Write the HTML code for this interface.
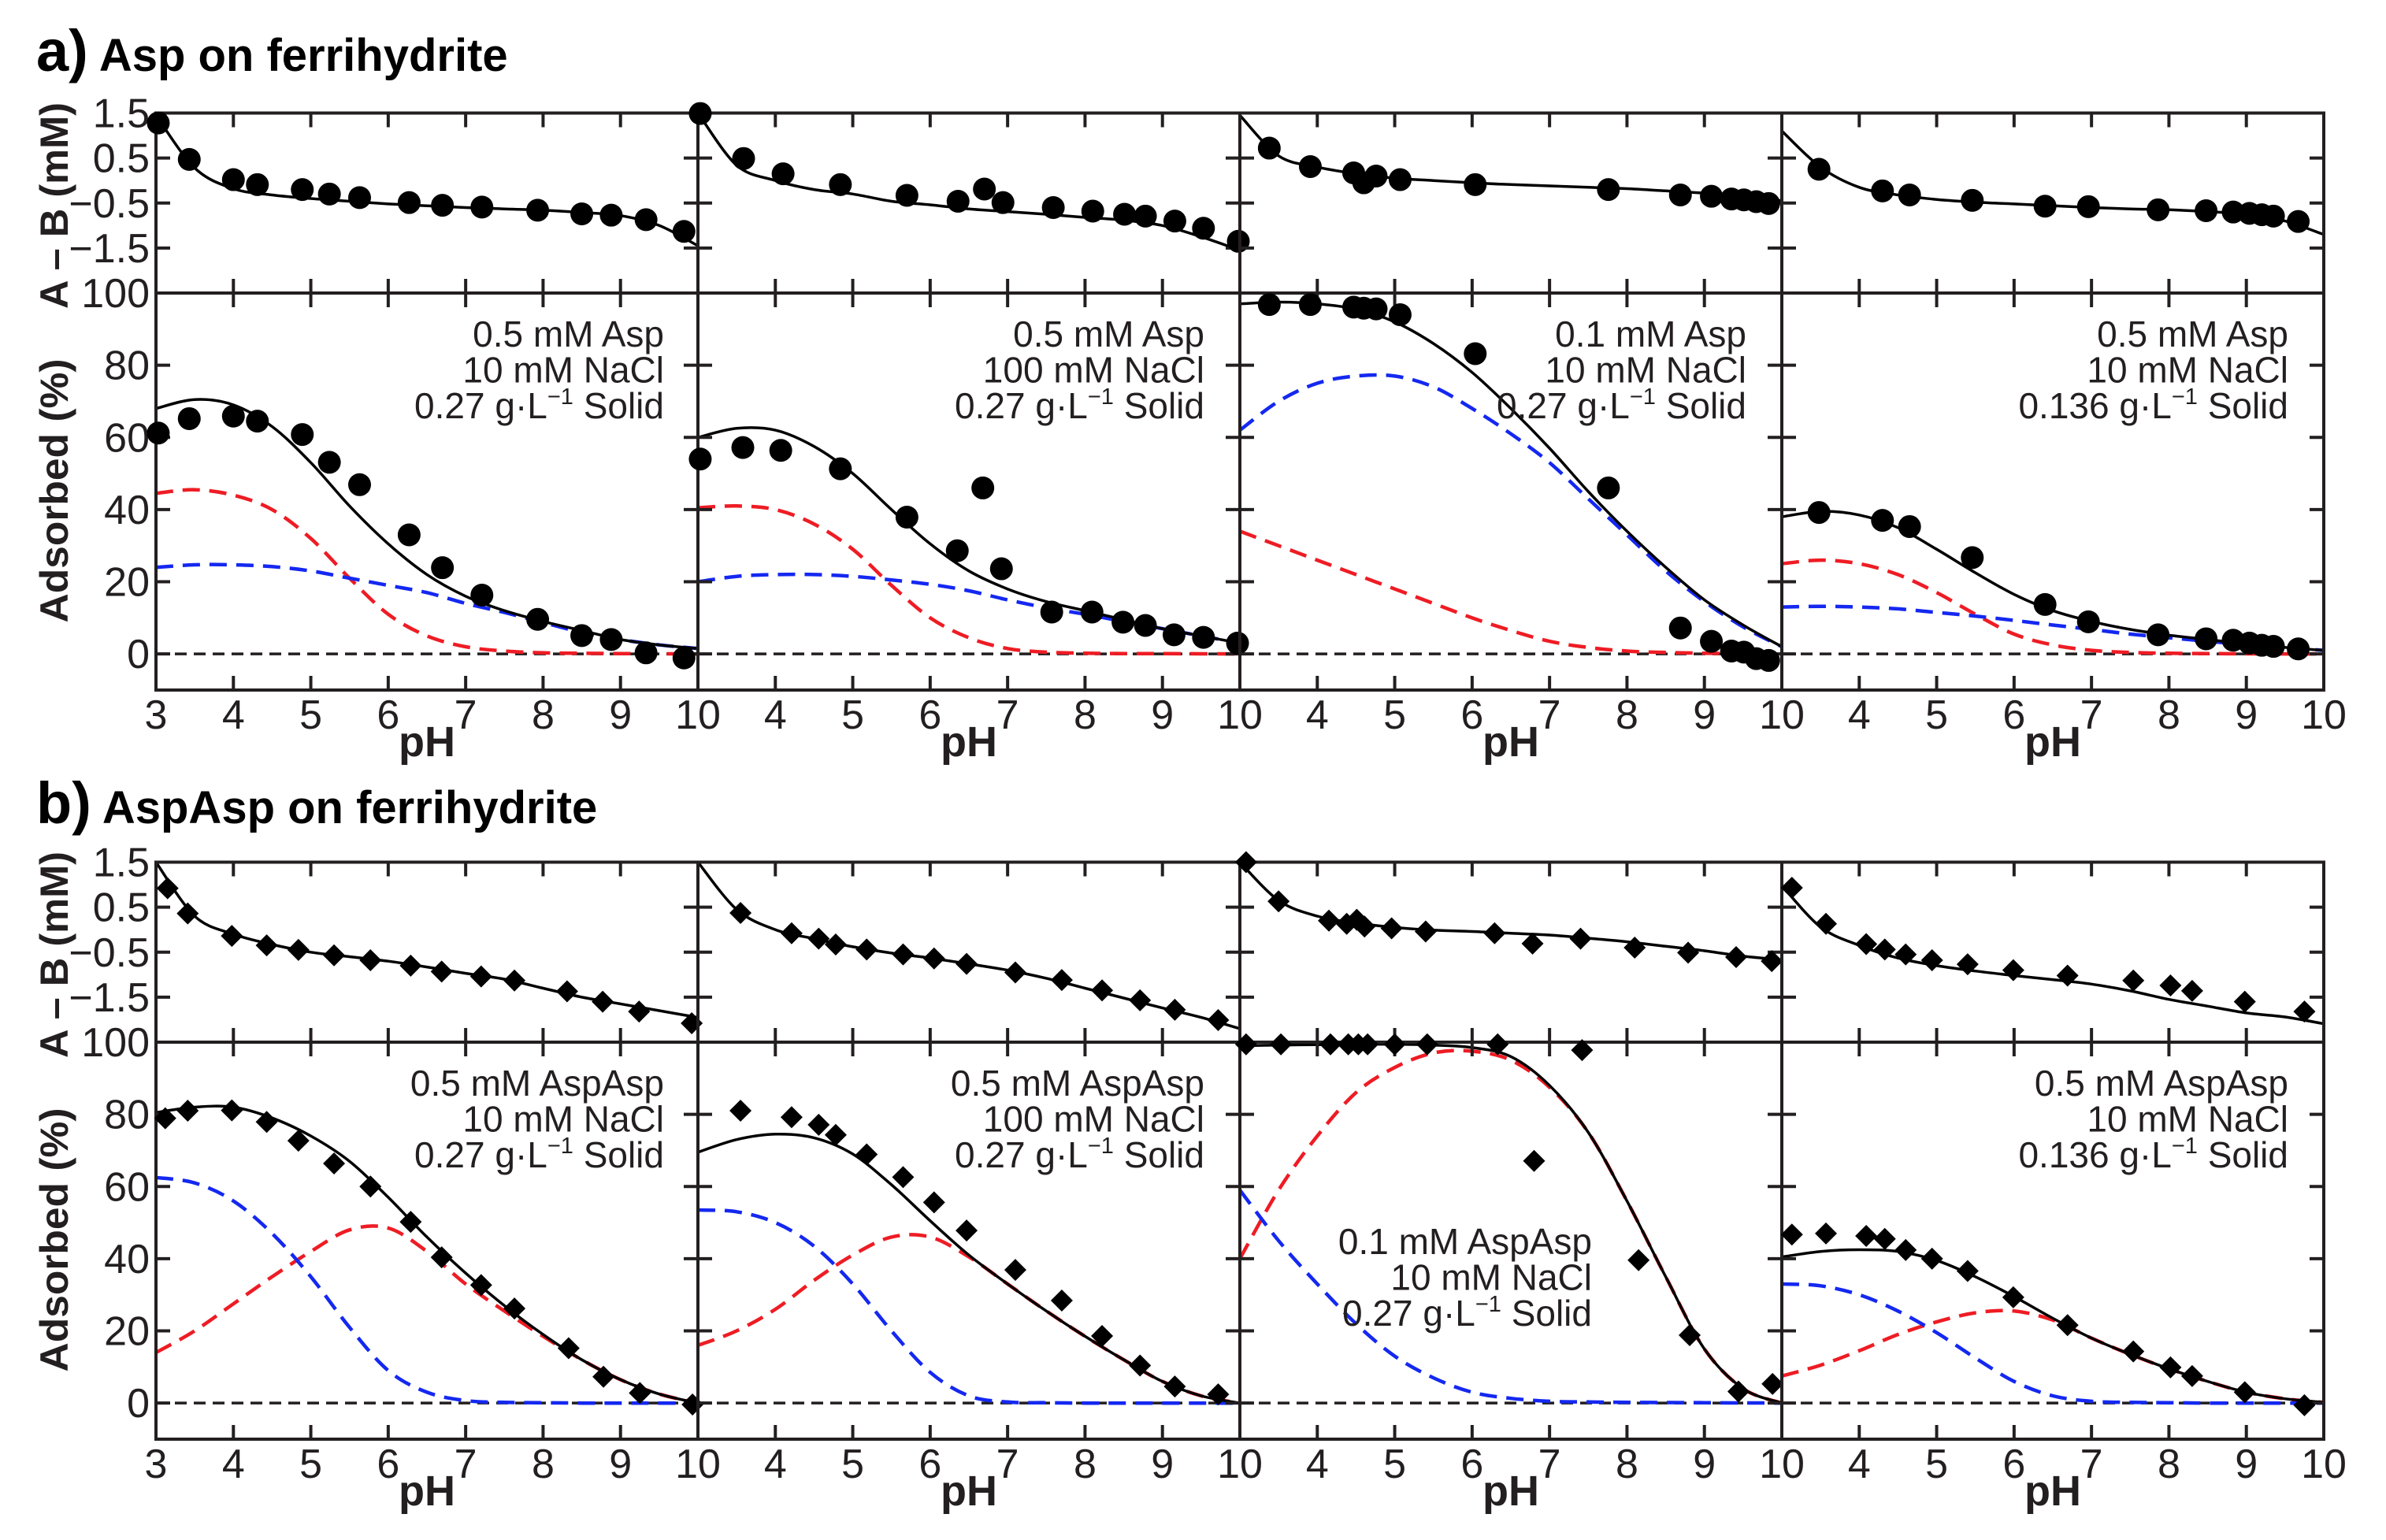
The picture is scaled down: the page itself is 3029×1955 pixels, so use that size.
<!DOCTYPE html>
<html><head><meta charset="utf-8"><style>
html,body{margin:0;padding:0;background:#fff;}
svg{display:block;font-family:"Liberation Sans",Arial,sans-serif;}
</style></head>
<body>
<svg id="fig" width="3029" height="1955" viewBox="0 0 3029 1955" xmlns="http://www.w3.org/2000/svg">
<rect x="0" y="0" width="3029" height="1955" fill="#fff"/>
</svg>
<script>
// ---- shared grid of pH values for fitted curves ----
const curvePH = [3,3.5,4,4.5,5,5.5,6,6.5,7,7.5,8,8.5,9,9.5,10];
const xTickLabels = ["4","5","6","7","8","9"];
const abTickVals = [1.5,0.5,-0.5,-1.5];
const abTickLabels = ["1.5","0.5","\u22120.5","\u22121.5"];
const adsTickVals = [0,20,40,60,80];
const adsTickLabels = ["0","20","40","60","80"];

// ---- panel a1 : 0.5 mM Asp, 10 mM NaCl ----
const a1_pH = [3.03,3.43,4.0,4.31,4.89,5.24,5.63,6.27,6.7,7.21,7.93,8.5,8.88,9.33,9.82];
const a1_ab = [1.28,0.47,0.02,-0.09,-0.2,-0.3,-0.38,-0.49,-0.55,-0.59,-0.66,-0.74,-0.77,-0.87,-1.13];
const a1_ads = [61.2,65.2,65.9,64.5,60.8,53.1,46.9,33,23.9,16.3,9.6,5.1,4,0.3,-1.1];
const a1_abFit = [1.45,0.28,-0.18,-0.32,-0.4,-0.46,-0.52,-0.56,-0.6,-0.63,-0.66,-0.71,-0.78,-1.0,-1.45];
const a1_total = [68,70.5,69,63,53,41,30.5,22,16,12,9,6.5,4,2.5,1.5];
const a1_red = [44.5,45.5,44,40,32,21,11,5,2,0.8,0.3,0.2,0.1,0.05,0];
const a1_blue = [24,24.7,24.7,24.2,23,21,19,17,14,11.5,8.7,6,4,2.5,1.5];

// ---- panel a2 : 0.5 mM Asp, 100 mM NaCl ----
const a2_pH = [3.03,3.59,4.1,4.84,5.7,6.36,6.7,6.94,7.59,8.1,8.51,8.78,9.16,9.53,9.98];
const a2_ab = [1.49,0.49,0.15,-0.09,-0.33,-0.46,-0.19,-0.49,-0.6,-0.68,-0.75,-0.79,-0.9,-1.06,-1.35];
const a2_adsPH = [3.03,3.58,4.07,4.84,5.7,6.35,6.68,6.92,7.57,8.09,8.49,8.78,9.15,9.53,9.97];
const a2_ads = [54,57.2,56.4,51.3,37.9,28.6,46,23.6,11.6,11.6,8.8,7.9,5.3,4.6,3];
const a2_abFit = [1.5,0.34,0.0,-0.2,-0.3,-0.46,-0.54,-0.63,-0.69,-0.75,-0.82,-0.88,-1.0,-1.25,-1.55];
const a2_total = [60,62.5,62,57.5,50,40,30.5,23,18,14.5,12,9.5,7,5,3];
const a2_red = [40.5,41,40,36,29,19,10,4.5,1.5,0.5,0.2,0.1,0.1,0.05,0];
const a2_blue = [20,21.5,22,22,21.5,20.5,19.3,17.5,15,12.8,11,9,7,5,3];

// ---- panel a3 : 0.1 mM Asp, 10 mM NaCl ----
const a3_pH = [3.38,3.91,4.47,4.6,4.76,5.07,6.04,7.76,8.69,9.09,9.35,9.51,9.67,9.83];
const a3_ab = [0.72,0.31,0.17,-0.05,0.1,0.02,-0.09,-0.2,-0.32,-0.35,-0.41,-0.43,-0.47,-0.51];
const a3_ads = [96.8,96.8,96.1,95.8,95.6,94,83.2,46,7.2,3.5,0.8,0.5,-1.3,-1.8];
const a3_abFit = [1.45,0.55,0.3,0.15,0.05,0.0,-0.05,-0.09,-0.12,-0.15,-0.18,-0.23,-0.28,-0.35,-0.45];
const a3_total = [97,97.5,97,95.5,92,86,78,68,57,45,34,24,15,8,2];
const a3_red = [34,30,26,22,18,14,10,6.5,3.5,1.8,0.8,0.4,0.2,0.1,0];
const a3_blue = [62,70,75,77,77,74,68,61,53,43,33,23,14.5,7.5,2];

// ---- panel a4 : 0.5 mM Asp, 0.136 g/L ----
const a4_pH = [3.48,4.3,4.65,5.46,6.4,6.96,7.86,8.48,8.83,9.04,9.2,9.35,9.67];
const a4_ab = [0.25,-0.23,-0.32,-0.44,-0.57,-0.58,-0.65,-0.67,-0.7,-0.73,-0.76,-0.79,-0.91];
const a4_ads = [39.2,37,35.3,26.7,13.7,8.9,5.3,4.2,3.8,3,2.4,2.1,1.4];
const a4_abFit = [1.1,0.3,-0.15,-0.32,-0.42,-0.48,-0.52,-0.56,-0.6,-0.63,-0.65,-0.69,-0.75,-0.9,-1.2];
const a4_total = [38,39.5,38.5,35,29,22.5,16.5,12,9,6.8,5.2,4,2.8,1.8,1];
const a4_red = [25,26,25,22,17,11,5.5,2.5,1,0.4,0.2,0.1,0.05,0.02,0];
const a4_blue = [13,13.2,13,12.5,11.5,10.5,9.3,8,6.8,5.5,4.5,3.5,2.6,1.8,1];

// ---- panel b1 : 0.5 mM AspAsp, 10 mM NaCl ----
const b1_pH = [3.15,3.41,3.98,4.43,4.84,5.3,5.77,6.29,6.69,7.2,7.63,8.31,8.77,9.24,9.92];
const b1_ab = [0.92,0.36,-0.14,-0.35,-0.45,-0.57,-0.68,-0.8,-0.93,-1.04,-1.13,-1.37,-1.6,-1.82,-2.08];
const b1_adsPH = [3.12,3.41,3.98,4.43,4.84,5.3,5.77,6.29,6.69,7.2,7.63,8.33,8.78,9.25,9.93];
const b1_ads = [78.9,81,81.1,77.9,72.7,66.4,60,50.2,40.4,32.7,26.2,15.2,7.3,2.8,-0.4];
const b1_abFit = [1.5,0.3,-0.1,-0.33,-0.5,-0.6,-0.7,-0.83,-0.97,-1.1,-1.3,-1.5,-1.65,-1.8,-1.95];
const b1_total = [80.5,82,82,79,74,67,57,46,36,27,19,12,6.5,2.5,0];
const b1_red = [14,20,27.5,35,42,48,48.5,42,33,25.5,18.5,12,6.5,2.5,0];
const b1_blue = [62.5,61,56,47,35,21,9,3,0.7,0.2,0.1,0,0,0,0];

// ---- panel b2 : 0.5 mM AspAsp, 100 mM NaCl ----
const b2_pH = [3.55,4.21,4.56,4.78,5.18,5.65,6.05,6.47,7.1,7.7,8.22,8.71,9.16,9.72];
const b2_ab = [0.37,-0.08,-0.2,-0.33,-0.44,-0.55,-0.64,-0.76,-0.95,-1.12,-1.35,-1.57,-1.78,-2.01];
const b2_ads = [81,79.2,77.1,74.3,68.9,62.6,55.6,47.8,36.9,28.4,18.6,10.4,4.6,2.4];
const b2_abFit = [1.5,0.45,0.0,-0.2,-0.38,-0.52,-0.63,-0.76,-0.9,-1.08,-1.3,-1.52,-1.74,-1.95,-2.2];
const b2_total = [69.5,73,74.5,73.5,69,60.5,50.5,41,33,25.5,18.5,12,6,2,0];
const b2_red = [16,20,26,34,41,46,46,40.5,33,25.5,18.5,12,6,2,0];
const b2_blue = [53.5,53,50,43.5,33,20,8.5,2,0.3,0.1,0,0,0,0,0];

// ---- panel b3 : 0.1 mM AspAsp, 10 mM NaCl ----
const b3_pH = [3.08,3.5,4.15,4.38,4.51,4.61,4.96,5.4,6.29,6.78,7.4,8.1,8.79,9.41,9.87];
const b3_ab = [1.5,0.63,0.2,0.13,0.22,0.07,0.03,-0.04,-0.08,-0.31,-0.2,-0.4,-0.51,-0.61,-0.7];
const b3_adsPH = [3.08,3.53,4.17,4.4,4.53,4.65,5.0,5.42,6.33,6.8,7.42,8.15,8.81,9.44,9.88];
const b3_ads = [99.4,99.4,99.4,99.4,99.4,99.4,99.4,99.4,99.4,67.1,97.8,39.6,18.8,3.2,5.3];
const b3_abFit = [1.5,0.65,0.3,0.15,0.05,-0.01,-0.04,-0.08,-0.12,-0.19,-0.27,-0.37,-0.47,-0.59,-0.67];
const b3_total = [99,99.2,99.3,99.4,99.4,99.2,98.5,96,88,75,56,35,15,4,0];
const b3_red = [40,59,74,86,93,97,97.5,95,87.5,75,56,35,15,4,0];
const b3_blue = [59,45,33,22,13,7,3,1.3,0.5,0.3,0.2,0.15,0.1,0.05,0];

// ---- panel b4 : 0.5 mM AspAsp, 0.136 g/L ----
const b4_pH = [3.13,3.57,4.09,4.33,4.6,4.94,5.4,5.99,6.69,7.54,8.02,8.3,8.98,9.75];
const b4_ab = [0.93,0.13,-0.32,-0.44,-0.55,-0.68,-0.77,-0.9,-1.02,-1.13,-1.24,-1.36,-1.6,-1.82];
const b4_ads = [46.7,47,46.3,45.5,42.4,40,36.6,29.3,21.6,14.3,9.9,7.5,3,-0.6];
const b4_abFit = [0.98,0.06,-0.35,-0.63,-0.8,-0.92,-1.02,-1.11,-1.21,-1.36,-1.55,-1.7,-1.85,-1.94,-2.09];
const b4_total = [40.5,42,42.5,42,39.5,35,29.5,23.5,18,13.5,9.5,6,3,1.2,0.2];
const b4_red = [7.5,10.5,14.5,19,22.5,25,25.5,23,18,13.5,9.5,6,3,1.2,0.2];
const b4_blue = [33,32.5,30,25.5,19.5,12.5,6,2,0.5,0.2,0.1,0,0,0,0];

// ---------- layout ----------
const NS = "http://www.w3.org/2000/svg";
const svg = document.getElementById('fig');
const INK = "#231f20";
const PANEL_L = [198,886,1574,2262];
const PANEL_W = 688;
const SECTION_DY = [0,951];
const AB_TOP = 143.5, DIV = 372, BOT = 876;

function el(tag, attrs, parent){
  const e = document.createElementNS(NS, tag);
  for (const k in attrs) e.setAttribute(k, attrs[k]);
  (parent||svg).appendChild(e);
  return e;
}
function xScale(L){ return ph => L + (ph-3)/7*PANEL_W; }
function abScale(dy){ return v => dy + AB_TOP + (1.5 - v)/4*(DIV-AB_TOP); }
function adsScale(dy){ return v => dy + DIV + (100 - v)/110*(BOT-DIV); }

function smoothPath(pts){
  let d = "M"+pts[0][0].toFixed(1)+","+pts[0][1].toFixed(1);
  for (let i=0;i<pts.length-1;i++){
    const p0 = pts[i-1]||pts[i], p1=pts[i], p2=pts[i+1], p3=pts[i+2]||pts[i+1];
    const c1x = p1[0]+(p2[0]-p0[0])/6, c1y = p1[1]+(p2[1]-p0[1])/6;
    const c2x = p2[0]-(p3[0]-p1[0])/6, c2y = p2[1]-(p3[1]-p1[1])/6;
    d += " C"+c1x.toFixed(1)+","+c1y.toFixed(1)+" "+c2x.toFixed(1)+","+c2y.toFixed(1)+" "+p2[0].toFixed(1)+","+p2[1].toFixed(1);
  }
  return d;
}

let clipId = 0;
function drawPanel(sec, idx, d){
  const L = PANEL_L[idx], R = L+PANEL_W, dy = SECTION_DY[sec];
  const X = xScale(L), YA = abScale(dy), YB = adsScale(dy);
  const g = el('g', {});
  
  

  const cid1 = 'clipab'+(clipId), cid2='clipads'+(clipId++);
  const defs = el('defs', {}, g);
  const c1 = el('clipPath', {id:cid1}, defs);
  el('rect', {x:L, y:dy+AB_TOP, width:PANEL_W, height:DIV-AB_TOP}, c1);
  const c2 = el('clipPath', {id:cid2}, defs);
  el('rect', {x:L, y:dy+DIV, width:PANEL_W, height:BOT-DIV}, c2);

  const zl = el('line', {x1:L, x2:R, y1:YB(0), y2:YB(0), stroke:INK, 'stroke-width':3.5, 'stroke-dasharray':'15 9'}, g);
  
  

  const series = [[d.red,'#ee1c24','22 12',4.5,'red-component-curve'],[d.blue,'#1428f0','22 12',4.5,'blue-component-curve'],[d.total,'#000','',3.5,'total-fit-curve']];
  series.forEach(s=>{
    const pts = curvePH.map((p,i)=>[X(p), YB(s[0][i])]);
    const attrs = {d:smoothPath(pts), fill:'none', stroke:s[1], 'stroke-width':s[3], 'clip-path':'url(#'+cid2+')'};
    if (s[2]) attrs['stroke-dasharray']=s[2];
    const p = el('path', attrs, g);
    
    
  });
  const abPts = curvePH.map((p,i)=>[X(p), YA(d.abFit[i])]);
  const abp = el('path', {d:smoothPath(abPts), fill:'none', stroke:'#000', 'stroke-width':3.5, 'clip-path':'url(#'+cid1+')'}, g);
  
  

  const frame = el('g', {stroke:INK, 'stroke-width':4, fill:'none'}, g);
  
  
  el('rect', {x:L, y:dy+AB_TOP, width:PANEL_W, height:BOT-AB_TOP}, frame);
  el('line', {x1:L, x2:R, y1:dy+DIV, y2:dy+DIV}, frame);
  const T = 18;
  for (let p=4;p<=9;p++){
    const x = X(p);
    el('line', {x1:x,x2:x,y1:dy+AB_TOP,y2:dy+AB_TOP+T}, frame);
    el('line', {x1:x,x2:x,y1:dy+DIV-T,y2:dy+DIV+T}, frame);
    el('line', {x1:x,x2:x,y1:dy+BOT-T,y2:dy+BOT}, frame);
  }
  abTickVals.slice(1).forEach(v=>{
    el('line', {x1:L,x2:L+T,y1:YA(v),y2:YA(v)}, frame);
    el('line', {x1:R-T,x2:R,y1:YA(v),y2:YA(v)}, frame);
  });
  adsTickVals.forEach(v=>{
    el('line', {x1:L,x2:L+T,y1:YB(v),y2:YB(v)}, frame);
    el('line', {x1:R-T,x2:R,y1:YB(v),y2:YB(v)}, frame);
  });

  function marker(cx, cy, name){
    let m;
    if (d.shape==='circle') m = el('circle', {cx:cx, cy:cy, r:14.5, fill:'#000'}, g);
    else { const s=14; m = el('polygon', {points:`${cx},${cy-s} ${cx+s},${cy} ${cx},${cy+s} ${cx-s},${cy}`, fill:'#000'}, g); }
    
    
  }
  d.abPH.forEach((p,i)=>marker(X(p), YA(d.ab[i]), 'ab-data-point'));
  d.adsPH.forEach((p,i)=>marker(X(p), YB(d.ads[i]), 'adsorbed-data-point'));

  const xl = el('g', {fill:INK, 'font-size':52, 'text-anchor':'middle'}, g);
  
  
  xTickLabels.forEach((t,i)=>{ const tx = el('text', {x:X(4+i), y:dy+925}, xl); tx.textContent = t; });
  if (idx===0){ const tx = el('text', {x:X(3), y:dy+925}, xl); tx.textContent = "3"; }
  { const tx = el('text', {x:R, y:dy+925}, xl); tx.textContent = "10"; }
  const ph = el('text', {x:L+PANEL_W/2, y:dy+960, 'font-size':54, 'font-weight':'bold', fill:INK, 'text-anchor':'middle'}, g);
  ph.textContent = "pH";
  
  

  const an = el('text', {'font-size':46, fill:INK, 'text-anchor':'end'}, g);
  
  
  d.note.forEach((line,i)=>{
    const ts = el('tspan', {x:d.noteX, y:d.noteY + i*45.5 + dy}, an);
    if (i===2){
      ts.appendChild(document.createTextNode(line+" g\u00b7L"));
      const sup = el('tspan', {'font-size':29, dy:-18}, ts); sup.textContent = "\u22121";
      const rest = el('tspan', {dy:18}, ts); rest.textContent = " Solid";
    } else ts.textContent = line;
  });
}

function drawYAxis(sec){
  const dy = SECTION_DY[sec];
  const YA = abScale(dy), YB = adsScale(dy);
  const g = el('g', {fill:INK, 'font-size':52, 'text-anchor':'end'});
  
  
  abTickVals.forEach((v,i)=>{ const t = el('text', {x:190, y:YA(v)+18}, g); t.textContent = abTickLabels[i]; });
  { const t = el('text', {x:190, y:dy+DIV+18}, g); t.textContent = "100"; }
  adsTickVals.forEach((v,i)=>{ const t = el('text', {x:190, y:YB(v)+18}, g); t.textContent = adsTickLabels[i]; });
  const t1 = el('text', {x:0, y:0, 'font-size':50, 'font-weight':'bold', fill:INK, 'text-anchor':'middle', transform:`translate(86,${dy+261}) rotate(-90)`, textLength:262, lengthAdjust:'spacingAndGlyphs'});
  t1.textContent = "A \u2013 B (mM)";
  
  
  const t2 = el('text', {x:0, y:0, 'font-size':50, 'font-weight':'bold', fill:INK, 'text-anchor':'middle', transform:`translate(86,${dy+623}) rotate(-90)`, textLength:335, lengthAdjust:'spacingAndGlyphs'});
  t2.textContent = "Adsorbed (%)";
  
  
}

function title(letter, txt, y, name){
  const t = el('text', {x:46, y:y, fill:'#000', 'font-weight':'bold'});
  
  
  const s1 = el('tspan', {'font-size':74}, t); s1.textContent = letter+")";
  const s2 = el('tspan', {'font-size':58, dx:14}, t); s2.textContent = txt;
}
title('a', 'Asp on ferrihydrite', 90, 'section-a-title');
title('b', 'AspAsp on ferrihydrite', 1045, 'section-b-title');
drawYAxis(0); drawYAxis(1);

const A_NOTE_Y = 440;
drawPanel(0,0,{id:'a1',shape:'circle',abPH:a1_pH,ab:a1_ab,adsPH:a1_pH,ads:a1_ads,abFit:a1_abFit,total:a1_total,red:a1_red,blue:a1_blue,note:["0.5 mM Asp","10 mM NaCl","0.27"],noteX:843,noteY:A_NOTE_Y});
drawPanel(0,1,{id:'a2',shape:'circle',abPH:a2_pH,ab:a2_ab,adsPH:a2_adsPH,ads:a2_ads,abFit:a2_abFit,total:a2_total,red:a2_red,blue:a2_blue,note:["0.5 mM Asp","100 mM NaCl","0.27"],noteX:886+643,noteY:A_NOTE_Y});
drawPanel(0,2,{id:'a3',shape:'circle',abPH:a3_pH,ab:a3_ab,adsPH:a3_pH,ads:a3_ads,abFit:a3_abFit,total:a3_total,red:a3_red,blue:a3_blue,note:["0.1 mM Asp","10 mM NaCl","0.27"],noteX:1574+643,noteY:A_NOTE_Y});
drawPanel(0,3,{id:'a4',shape:'circle',abPH:a4_pH,ab:a4_ab,adsPH:a4_pH,ads:a4_ads,abFit:a4_abFit,total:a4_total,red:a4_red,blue:a4_blue,note:["0.5 mM Asp","10 mM NaCl","0.136"],noteX:2262+643,noteY:A_NOTE_Y});
drawPanel(1,0,{id:'b1',shape:'diamond',abPH:b1_pH,ab:b1_ab,adsPH:b1_adsPH,ads:b1_ads,abFit:b1_abFit,total:b1_total,red:b1_red,blue:b1_blue,note:["0.5 mM AspAsp","10 mM NaCl","0.27"],noteX:843,noteY:A_NOTE_Y});
drawPanel(1,1,{id:'b2',shape:'diamond',abPH:b2_pH,ab:b2_ab,adsPH:b2_pH,ads:b2_ads,abFit:b2_abFit,total:b2_total,red:b2_red,blue:b2_blue,note:["0.5 mM AspAsp","100 mM NaCl","0.27"],noteX:886+643,noteY:A_NOTE_Y});
drawPanel(1,2,{id:'b3',shape:'diamond',abPH:b3_pH,ab:b3_ab,adsPH:b3_adsPH,ads:b3_ads,abFit:b3_abFit,total:b3_total,red:b3_red,blue:b3_blue,note:["0.1 mM AspAsp","10 mM NaCl","0.27"],noteX:2021,noteY:641});
drawPanel(1,3,{id:'b4',shape:'diamond',abPH:b4_pH,ab:b4_ab,adsPH:b4_pH,ads:b4_ads,abFit:b4_abFit,total:b4_total,red:b4_red,blue:b4_blue,note:["0.5 mM AspAsp","10 mM NaCl","0.136"],noteX:2262+643,noteY:A_NOTE_Y});
</script>
</body></html>
